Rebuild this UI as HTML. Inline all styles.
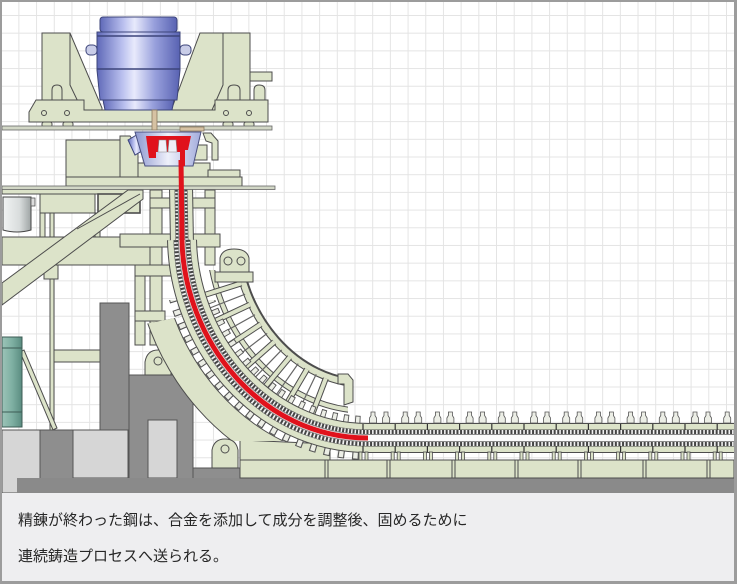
<!DOCTYPE html>
<html><head><meta charset="utf-8">
<style>
html,body{margin:0;padding:0;}
body{width:737px;height:584px;overflow:hidden;position:relative;background:#9c9c9c;}
svg{position:absolute;left:0;top:0;}
.cap{position:absolute;left:18px;top:503px;font-family:"Liberation Sans","Noto Sans CJK JP",sans-serif;font-size:15px;line-height:36px;color:#262626;white-space:nowrap;}
</style></head><body>
<svg width="737" height="584" viewBox="0 0 737 584">
<defs>
 <pattern id="grid" x="0.7" y="15" width="17.69" height="17.69" patternUnits="userSpaceOnUse">
  <path d="M0,0.5 H17.69 M0.5,0 V17.69" stroke="#e4e4e4" stroke-width="1" fill="none"/>
 </pattern>
 <linearGradient id="lg" x1="0" y1="0" x2="1" y2="0">
  <stop offset="0" stop-color="#5f69b8"/><stop offset="0.3" stop-color="#b9bfee"/>
  <stop offset="0.45" stop-color="#e8eafc"/><stop offset="0.7" stop-color="#98a0dc"/>
  <stop offset="1" stop-color="#5862b2"/>
 </linearGradient>
 <linearGradient id="tg" x1="0" y1="0" x2="1" y2="0">
  <stop offset="0" stop-color="#8c97cf"/><stop offset="0.5" stop-color="#eef0fa"/>
  <stop offset="1" stop-color="#a3acdc"/>
 </linearGradient>
 <linearGradient id="bk" x1="0" y1="0" x2="1" y2="0">
  <stop offset="0" stop-color="#f2f4f4"/><stop offset="0.6" stop-color="#d8dcdc"/><stop offset="1" stop-color="#9ea4a4"/>
 </linearGradient>
 <linearGradient id="mt" x1="0" y1="0" x2="1" y2="0">
  <stop offset="0" stop-color="#9cc4b8"/><stop offset="0.5" stop-color="#7fb0a3"/><stop offset="1" stop-color="#5a8c80"/>
 </linearGradient>
 <clipPath id="cAll"><rect x="2" y="2" width="732" height="491"/></clipPath>
 <clipPath id="cOuter"><path d="M181,0 L181,150 L182,240 C184,340 260,438 368,438 L740,438 L740,600 L0,600 L0,0 Z"/></clipPath>
 <clipPath id="cInner"><path d="M181,0 L181,150 L182,240 C184,340 260,438 368,438 L740,438 L740,0 Z"/></clipPath>
 <clipPath id="cBand"><polygon points="100,333 190,315 300,315 300,441 100,441"/></clipPath>
 <clipPath id="cFan"><rect x="150" y="270" width="198" height="170"/></clipPath>
 <clipPath id="cCurve"><rect x="150" y="300" width="216" height="170"/></clipPath>
</defs>

<rect x="2" y="2" width="732" height="491" fill="#ffffff"/>
<rect x="2" y="2" width="732" height="491" fill="url(#grid)"/>
<rect x="2" y="493" width="732" height="88" fill="#eeeef0"/>

<g clip-path="url(#cAll)">
<!-- back left structures -->
<g stroke="#4d4d4d" stroke-width="1" fill="#dce3c9">
 <rect x="2" y="189" width="140" height="5"/>
 <rect x="40" y="194" width="55" height="19"/>
 <rect x="98" y="194" width="42" height="19" stroke-width="1.6"/>
 <rect x="40" y="213" width="5" height="24"/>
 <rect x="95" y="213" width="5" height="24"/>
 <rect x="50" y="213" width="4" height="217"/>
 <rect x="2" y="237" width="148" height="28"/>
 <rect x="44" y="265" width="14" height="14"/>
 <rect x="54" y="350" width="46" height="12"/>
 <polygon points="2,283 128,190 143,190 143,199 2,305"/>
 <line x1="77" y1="229" x2="140" y2="194"/>
 <polygon points="20,352 24,350 57,428 53,430"/>
 <!-- middle columns -->
 <rect x="150" y="190" width="12" height="155"/>
 <rect x="205" y="190" width="10" height="75"/>
 <rect x="150" y="198" width="65" height="10"/>
 <rect x="120" y="234" width="100" height="13"/>
 <rect x="135" y="265" width="10" height="80"/>
 <rect x="135" y="265" width="37" height="11"/>
 <rect x="135" y="311" width="30" height="10"/>
 <rect x="218" y="281" width="5" height="60"/>
 <rect x="241" y="281" width="5" height="55"/>
</g>
<path d="M3,197 H31 V230 Q17,234 3,230 Z" fill="url(#bk)" stroke="#444"/>
<rect x="31" y="198" width="4" height="8" fill="#ddd" stroke="#555" stroke-width="0.8"/>
<rect x="2" y="337" width="20" height="90" fill="url(#mt)" stroke="#3d5c55"/>
<line x1="2" y1="348" x2="22" y2="348" stroke="#3d5c55"/>
<line x1="2" y1="412" x2="22" y2="412" stroke="#3d5c55"/>

<!-- foundations -->
<g stroke="#555" stroke-width="1">
 <rect x="2" y="430" width="38" height="63" fill="#d6d6d6"/>
 <rect x="40" y="430" width="33" height="50" fill="#8e8e8e"/>
 <rect x="73" y="430" width="55" height="48" fill="#d6d6d6"/>
 <rect x="100" y="303" width="29" height="127" fill="#8e8e8e"/>
 <rect x="129" y="375" width="64" height="105" fill="#8e8e8e"/>
 <rect x="148" y="420" width="29" height="58" fill="#d6d6d6"/>
 <rect x="193" y="468" width="52" height="12" fill="#8e8e8e"/>
</g>
<rect x="17" y="478" width="717" height="15" fill="#8a8a8a"/>

<g stroke="#4d4d4d" stroke-width="1" fill="#dce3c9">
 <path d="M145,375 V362 Q147,350 158,350 Q169,350 171,362 V375 Z"/>
 <circle cx="158" cy="361" r="4" fill="none"/>
 <polygon points="240,440 330,444 330,460 240,460"/>
 <rect x="240" y="460" width="494" height="18"/>
</g>
<g stroke="#4d4d4d" stroke-width="1">
 <line x1="325" y1="460" x2="325" y2="478"/><line x1="328" y1="460" x2="328" y2="478"/>
 <line x1="387" y1="460" x2="387" y2="478"/><line x1="390" y1="460" x2="390" y2="478"/>
 <line x1="452" y1="460" x2="452" y2="478"/><line x1="455" y1="460" x2="455" y2="478"/>
 <line x1="515" y1="460" x2="515" y2="478"/><line x1="518" y1="460" x2="518" y2="478"/>
 <line x1="578" y1="460" x2="578" y2="478"/><line x1="581" y1="460" x2="581" y2="478"/>
 <line x1="643" y1="460" x2="643" y2="478"/><line x1="646" y1="460" x2="646" y2="478"/>
 <line x1="707" y1="460" x2="707" y2="478"/><line x1="710" y1="460" x2="710" y2="478"/>
</g>

<!-- outer big band -->
<g clip-path="url(#cOuter)"><g clip-path="url(#cBand)" fill="none">
 <path d="M181,150 L182,240 C184,340 260,438 368,438 L740,438" stroke="#4d4d4d" stroke-width="100"/>
 <path d="M181,150 L182,240 C184,340 260,438 368,438 L740,438" stroke="#dce3c9" stroke-width="98"/>
 <path d="M181,150 L182,240 C184,340 260,438 368,438 L740,438" stroke="#4d4d4d" stroke-width="46"/>
 <path d="M181,150 L182,240 C184,340 260,438 368,438 L740,438" stroke="#ffffff" stroke-width="44"/>
</g></g>

<!-- inner fan -->
<g clip-path="url(#cInner)"><g clip-path="url(#cFan)" fill="none">
 <path d="M181,150 L182,240 C184,340 260,438 368,438 L740,438" stroke="#4d4d4d" stroke-width="118"/>
 <path d="M181,150 L182,240 C184,340 260,438 368,438 L740,438" stroke="#dce3c9" stroke-width="114"/>
 <path d="M181,150 L182,240 C184,340 260,438 368,438 L740,438" stroke="#4d4d4d" stroke-width="102"/>
 <path d="M181,150 L182,240 C184,340 260,438 368,438 L740,438" stroke="#ffffff" stroke-width="100"/>
 <path d="M181,150 L182,240 C184,340 260,438 368,438 L740,438" stroke="#4d4d4d" stroke-width="60"/>
 <path d="M181,150 L182,240 C184,340 260,438 368,438 L740,438" stroke="#dce3c9" stroke-width="58"/>
 <path d="M181,150 L182,240 C184,340 260,438 368,438 L740,438" stroke="#4d4d4d" stroke-width="50"/>
 <path d="M181,150 L182,240 C184,340 260,438 368,438 L740,438" stroke="#ffffff" stroke-width="48"/>
 <g stroke="#666" stroke-width="1.2">
  <line x1="209.8" y1="308.0" x2="245.1" y2="294.2"/>
  <line x1="221.8" y1="333.4" x2="255.0" y2="314.8"/>
  <line x1="237.0" y1="356.5" x2="267.2" y2="333.4"/>
  <line x1="255.3" y1="377.2" x2="281.7" y2="349.9"/>
  <line x1="276.3" y1="394.7" x2="298.2" y2="363.6"/>
  <line x1="299.8" y1="408.5" x2="316.2" y2="374.2"/>
 </g>
 <g stroke="#4d4d4d" stroke-width="6">
  <line x1="205.1" y1="294.8" x2="241.3" y2="283.4"/>
  <line x1="215.3" y1="320.9" x2="249.7" y2="304.7"/>
  <line x1="228.9" y1="345.2" x2="260.7" y2="324.3"/>
  <line x1="245.7" y1="367.2" x2="274.2" y2="342.0"/>
  <line x1="265.4" y1="386.4" x2="289.7" y2="357.2"/>
  <line x1="287.7" y1="402.1" x2="307.0" y2="369.3"/>
  <line x1="312.3" y1="413.9" x2="325.8" y2="378.4"/>
 </g>
 <g stroke="#dce3c9" stroke-width="4">
  <line x1="205.1" y1="294.8" x2="241.3" y2="283.4"/>
  <line x1="215.3" y1="320.9" x2="249.7" y2="304.7"/>
  <line x1="228.9" y1="345.2" x2="260.7" y2="324.3"/>
  <line x1="245.7" y1="367.2" x2="274.2" y2="342.0"/>
  <line x1="265.4" y1="386.4" x2="289.7" y2="357.2"/>
  <line x1="287.7" y1="402.1" x2="307.0" y2="369.3"/>
  <line x1="312.3" y1="413.9" x2="325.8" y2="378.4"/>
 </g>
</g></g>
<polygon points="338,374 348,374 353,380 353,402 344,405 344,384 338,384" fill="#dce3c9" stroke="#4d4d4d"/>

<!-- pinch roll pedestal -->
<g stroke="#4d4d4d" stroke-width="1" fill="#dce3c9">
 <path d="M220,273 V258 Q222,249 234,249 Q247,249 249,258 V273 Z"/>
 <circle cx="228" cy="261" r="4" fill="none"/><circle cx="241" cy="261" r="4" fill="none"/>
 <rect x="215" y="272" width="38" height="10"/>
</g>

<!-- curve pedestals -->
<g clip-path="url(#cCurve)" fill="none">
 <path d="M182,240 C184,340 260,438 368,438" stroke="#555" stroke-width="44" stroke-dasharray="6 7"/>
 <path d="M182,240 C184,340 260,438 368,438" stroke="#eceee6" stroke-width="42" stroke-dasharray="4 9" stroke-dashoffset="-1"/>
</g>

<!-- strand frames -->
<g fill="none">
 <path d="M182,240 C184,340 260,438 368,438 L740,438" stroke="#4d4d4d" stroke-width="30"/>
 <path d="M181,186 L182,246" stroke="#4d4d4d" stroke-width="24"/>
 <path d="M182,240 C184,340 260,438 368,438 L740,438" stroke="#dce3c9" stroke-width="28"/>
 <path d="M181,186 L182,246" stroke="#dce3c9" stroke-width="22"/>
 <path d="M182,240 C184,340 260,438 368,438 L740,438" stroke="#4d4d4d" stroke-width="17"/>
 <path d="M181,186 L182,246" stroke="#4d4d4d" stroke-width="13"/>
 <path d="M182,240 C184,340 260,438 368,438 L740,438" stroke="#f2f2f2" stroke-width="16"/>
 <path d="M181,186 L182,246" stroke="#f2f2f2" stroke-width="12"/>
 <path d="M182,240 C184,340 260,438 368,438 L740,438" stroke="#444" stroke-width="16" stroke-dasharray="2 1.6"/>
 <path d="M181,186 L182,246" stroke="#444" stroke-width="12" stroke-dasharray="2 1.6"/>
 <path d="M182,240 C184,340 260,438 368,438 L740,438" stroke="#8a8a8a" stroke-width="8"/>
 <path d="M181,186 L182,246" stroke="#8a8a8a" stroke-width="7"/>
 <path d="M182,240 C184,340 260,438 368,438 L740,438" stroke="#fbfbfb" stroke-width="6"/>
 <path d="M181,186 L182,246" stroke="#fbfbfb" stroke-width="5"/>
</g>

<!-- horizontal dividers, legs, pedestals -->
<g stroke="#333" stroke-width="1.2">
 <path d="M363,424V430M363,446V452 M395.2,424V430M395.2,446V452 M427.4,424V430M427.4,446V452 M459.6,424V430M459.6,446V452 M491.8,424V430M491.8,446V452 M524,424V430M524,446V452 M556.2,424V430M556.2,446V452 M588.4,424V430M588.4,446V452 M620.6,424V430M620.6,446V452 M652.8,424V430M652.8,446V452 M685,424V430M685,446V452 M717.2,424V430M717.2,446V452"/>
</g>
<g fill="#dce3c9" stroke="#4d4d4d" stroke-width="0.8">
 <rect x="359" y="452" width="3" height="8"/><rect x="365" y="452" width="3" height="8"/>
 <rect x="391.2" y="452" width="3" height="8"/><rect x="397.2" y="452" width="3" height="8"/>
 <rect x="423.4" y="452" width="3" height="8"/><rect x="429.4" y="452" width="3" height="8"/>
 <rect x="455.6" y="452" width="3" height="8"/><rect x="461.6" y="452" width="3" height="8"/>
 <rect x="487.8" y="452" width="3" height="8"/><rect x="493.8" y="452" width="3" height="8"/>
 <rect x="520" y="452" width="3" height="8"/><rect x="526" y="452" width="3" height="8"/>
 <rect x="552.2" y="452" width="3" height="8"/><rect x="558.2" y="452" width="3" height="8"/>
 <rect x="584.4" y="452" width="3" height="8"/><rect x="590.4" y="452" width="3" height="8"/>
 <rect x="616.6" y="452" width="3" height="8"/><rect x="622.6" y="452" width="3" height="8"/>
 <rect x="648.8" y="452" width="3" height="8"/><rect x="654.8" y="452" width="3" height="8"/>
 <rect x="681" y="452" width="3" height="8"/><rect x="687" y="452" width="3" height="8"/>
 <rect x="713.2" y="452" width="3" height="8"/><rect x="719.2" y="452" width="3" height="8"/>
</g>
<g fill="#eceee6" stroke="#555" stroke-width="0.8">
 <path d="M369.5,423V418L371,415.5V412H375V415.5L376.5,418V423Z"/>
 <path d="M382.5,423V418L384,415.5V412H388V415.5L389.5,418V423Z"/>
 <path d="M401.7,423V418L403.2,415.5V412H407.2V415.5L408.7,418V423Z"/>
 <path d="M414.7,423V418L416.2,415.5V412H420.2V415.5L421.7,418V423Z"/>
 <path d="M433.9,423V418L435.4,415.5V412H439.4V415.5L440.9,418V423Z"/>
 <path d="M446.9,423V418L448.4,415.5V412H452.4V415.5L453.9,418V423Z"/>
 <path d="M466.1,423V418L467.6,415.5V412H471.6V415.5L473.1,418V423Z"/>
 <path d="M479.1,423V418L480.6,415.5V412H484.6V415.5L486.1,418V423Z"/>
 <path d="M498.3,423V418L499.8,415.5V412H503.8V415.5L505.3,418V423Z"/>
 <path d="M511.3,423V418L512.8,415.5V412H516.8V415.5L518.3,418V423Z"/>
 <path d="M530.5,423V418L532,415.5V412H536V415.5L537.5,418V423Z"/>
 <path d="M543.5,423V418L545,415.5V412H549V415.5L550.5,418V423Z"/>
 <path d="M562.7,423V418L564.2,415.5V412H568.2V415.5L569.7,418V423Z"/>
 <path d="M575.7,423V418L577.2,415.5V412H581.2V415.5L582.7,418V423Z"/>
 <path d="M594.9,423V418L596.4,415.5V412H600.4V415.5L601.9,418V423Z"/>
 <path d="M607.9,423V418L609.4,415.5V412H613.4V415.5L614.9,418V423Z"/>
 <path d="M627.1,423V418L628.6,415.5V412H632.6V415.5L634.1,418V423Z"/>
 <path d="M640.1,423V418L641.6,415.5V412H645.6V415.5L647.1,418V423Z"/>
 <path d="M659.3,423V418L660.8,415.5V412H664.8V415.5L666.3,418V423Z"/>
 <path d="M672.3,423V418L673.8,415.5V412H677.8V415.5L679.3,418V423Z"/>
 <path d="M691.5,423V418L693,415.5V412H697V415.5L698.5,418V423Z"/>
 <path d="M704.5,423V418L706,415.5V412H710V415.5L711.5,418V423Z"/>
 <path d="M723.7,423V418L725.2,415.5V412H729.2V415.5L730.7,418V423Z"/>
</g>

<!-- pedestal under outer band -->
<g stroke="#4d4d4d" stroke-width="1" fill="#dce3c9">
 <path d="M212,468 V450 Q214,439 225,439 Q236,439 238,450 V468 Z"/>
 <circle cx="225" cy="449" r="4" fill="none"/>
</g>

<!-- top turret -->
<g stroke="#4d4d4d" stroke-width="1" fill="#dce3c9">
 <polygon points="42,33 70,33 102,108 102,120 42,120"/>
 <polygon points="200,33 250,33 250,120 172,120 172,108"/>
 <polyline points="70,33 70,85 82,110" fill="none"/>
 <polyline points="223,33 223,85 212,110" fill="none"/>
 <rect x="250" y="72" width="22" height="9"/>
 <path d="M52,100 V90 Q52,85 57,85 Q62,85 62,90 V100 Z"/>
 <path d="M228,100 V90 Q228,85 234,85 Q240,85 240,90 V100 Z"/>
 <path d="M254,100 V90 Q254,85 259,85 Q265,85 265,90 V100 Z"/>
 <polygon points="29,112 36,100 84,100 84,110 215,110 215,100 268,100 268,122 29,122"/>
 <rect x="42" y="122" width="10" height="5" rx="2"/>
 <rect x="63" y="122" width="10" height="5" rx="2"/>
 <rect x="223" y="122" width="10" height="5" rx="2"/>
 <rect x="244" y="122" width="10" height="5" rx="2"/>
 <circle cx="44" cy="113" r="2.5" fill="none"/><circle cx="67" cy="113" r="2.5" fill="none"/>
 <circle cx="226" cy="113" r="2.5" fill="none"/><circle cx="249" cy="113" r="2.5" fill="none"/>
</g>
<rect x="2" y="126" width="270" height="4" fill="#d2d7c6" stroke="#666" stroke-width="0.8"/>

<!-- ladle -->
<rect x="86" y="45" width="11" height="10" rx="4" fill="#c9cde8" stroke="#3c447a"/>
<rect x="180" y="45" width="11" height="10" rx="4" fill="#c9cde8" stroke="#3c447a"/>
<path d="M97,32 H180 V70 L177,100 H100 L97,70 Z" fill="url(#lg)" stroke="#3c447a"/>
<rect x="100" y="17" width="77" height="15" rx="3" fill="url(#lg)" stroke="#3c447a"/>
<line x1="97" y1="36" x2="180" y2="36" stroke="#3c447a" stroke-width="1.5"/>
<line x1="97" y1="69" x2="180" y2="69" stroke="#3c447a" stroke-width="1.5"/>
<path d="M103,100 H174 L172,110 H105 Z" fill="url(#lg)" stroke="#3c447a"/>
<rect x="152" y="110" width="5" height="20" fill="#d6c2a3" stroke="#8a7a60" stroke-width="0.8"/>

<!-- tundish level -->
<g stroke="#4d4d4d" stroke-width="1" fill="#dce3c9">
 <rect x="66" y="140" width="55" height="38"/>
 <polygon points="120,136 130,136 138,148 138,178 120,178"/>
 <rect x="138" y="163" width="72" height="16"/>
 <rect x="208" y="170" width="32" height="13"/>
 <rect x="66" y="177" width="176" height="9"/>
 <polygon points="203,133 211,133 218,141 218,160 212,160 212,143 206,141"/>
 <rect x="193" y="145" width="14" height="15"/>
</g>
<rect x="2" y="186" width="273" height="3.5" fill="#d2d7c6" stroke="#666" stroke-width="0.8"/>
<rect x="180" y="127" width="24" height="4" fill="#d6c2a3" stroke="#8a7a60" stroke-width="0.8"/>
<polygon points="128,140 140,133 147,148 135,155" fill="url(#lg)" stroke="#3c447a"/>
<polygon points="135,132 201,132 193,166 145,166" fill="url(#tg)" stroke="#4a5080"/>
<path d="M146,136 H191 L188,150 H185 V166 H180 V152 H156 V158 H149 Z" fill="#e0121c"/>
<polygon points="159,140 166,140 167,152 158,152" fill="#f0f0f8" stroke="#888" stroke-width="0.6"/>
<polygon points="169,140 176,140 177,152 168,152" fill="#f0f0f8" stroke="#888" stroke-width="0.6"/>

<!-- red strand -->
<path d="M181,160 L182,240 C184,340 260,438 368,438" stroke="#e0121c" stroke-width="5" fill="none"/>
</g>
</svg>
<div class="cap">精錬が終わった鋼は、合金を添加して成分を調整後、固めるために<br>連続鋳造プロセスへ送られる。</div>
</body></html>
